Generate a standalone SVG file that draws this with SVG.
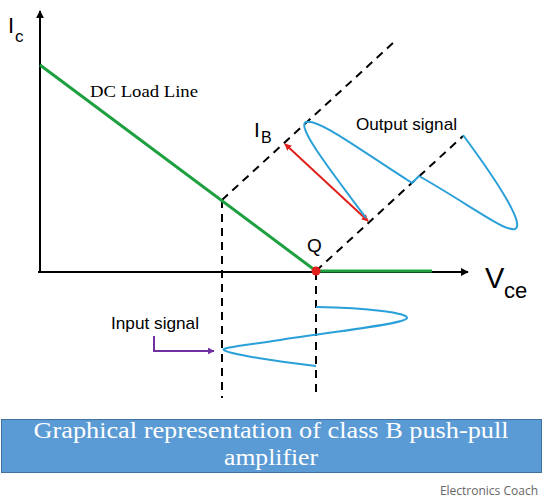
<svg xmlns="http://www.w3.org/2000/svg" width="550" height="500" viewBox="0 0 550 500">
<defs>
<style>
.axis{stroke:#000;stroke-width:2;fill:none}
.dash{stroke:#000;stroke-width:2;stroke-dasharray:8,6;fill:none}
.green{stroke:#1fa040;stroke-width:3;fill:none}
.sig{stroke:#2aa0d8;stroke-width:2;fill:none;stroke-linejoin:round}
.sans{font-family:"Liberation Sans","Open Sans",sans-serif;fill:#000}
.serif{font-family:"Liberation Serif","DejaVu Serif",serif}
</style>
<marker id="ah" viewBox="0 0 10 10" refX="9" refY="5" markerWidth="8" markerHeight="8" markerUnits="userSpaceOnUse" orient="auto"><path d="M0,0 L10,5 L0,10 z" fill="#000"/></marker>
<marker id="rh" viewBox="0 0 10 10" refX="9" refY="5" markerWidth="7" markerHeight="7" markerUnits="userSpaceOnUse" orient="auto-start-reverse"><path d="M0,0 L10,5 L0,10 z" fill="#e0201c"/></marker>
<marker id="ph" viewBox="0 0 10 10" refX="9" refY="5" markerWidth="7" markerHeight="7" markerUnits="userSpaceOnUse" orient="auto"><path d="M0,0 L10,5 L0,10 z" fill="#7030a0"/></marker>
</defs>
<rect width="550" height="500" fill="#fff"/>
<g id="connectors">
<line class="axis" x1="40" y1="273" x2="40" y2="11" marker-end="url(#ah)"/>
<line class="axis" x1="38" y1="272" x2="468" y2="272" marker-end="url(#ah)"/>
<line class="dash" x1="222" y1="200" x2="393" y2="43"/>
<line class="dash" x1="316" y1="271" x2="463" y2="136"/>
<line class="dash" x1="222" y1="200" x2="222" y2="398"/>
<line class="dash" x1="316" y1="272" x2="316" y2="398"/>
<polyline class="green" points="40,65 316,271 432,271"/>
<line x1="285" y1="144" x2="368" y2="221" stroke="#e0201c" stroke-width="2" marker-start="url(#rh)" marker-end="url(#rh)"/>
<path class="sig" d="M366,218 C330,170 296,126 306,122 C318,118 360,150 412,183 L419,176 C470,205 505,232 515,229 C525,225 500,185 463,135"/>
<path class="sig" d="M316,307 C370,308 408,313 407,318 C406,324 330,332 280,340 C240,346 220,348 224,350 C228,354 280,362 316,366"/>
<polyline points="154,336 154,351 214,351" fill="none" stroke="#7030a0" stroke-width="2" marker-end="url(#ph)"/>
<circle cx="316" cy="271" r="4.5" fill="#e0201c"/>
</g>
<g id="label-ic"><text class="sans" x="8" y="33" font-size="22">I</text><text class="sans" x="15" y="42" font-size="17">c</text></g>
<g id="label-ib"><text class="sans" x="254" y="137" font-size="21">I</text><text class="sans" x="261" y="143" font-size="16">B</text></g>
<g id="label-vce"><text class="sans" x="485" y="288" font-size="29">V</text><text class="sans" x="504" y="298" font-size="22">ce</text></g>
<g id="label-q"><text class="sans" x="307" y="252" font-size="19">Q</text></g>
<g id="label-dc"><text class="serif" x="90" y="97" font-size="16" textLength="108" lengthAdjust="spacingAndGlyphs">DC Load Line</text></g>
<g id="label-output"><text class="sans" x="356" y="130" font-size="17" textLength="101" lengthAdjust="spacingAndGlyphs">Output signal</text></g>
<g id="label-input"><text class="sans" x="111" y="329" font-size="17" textLength="88" lengthAdjust="spacingAndGlyphs">Input signal</text></g>
<g id="title">
<rect x="1.5" y="419.5" width="540" height="53" fill="#5b9bd5" stroke="#41719c" stroke-width="1"/>
<text class="serif" x="271" y="438" font-size="24" fill="#fff" text-anchor="middle" textLength="475" lengthAdjust="spacingAndGlyphs">Graphical representation of class B push-pull</text>
<text class="serif" x="271" y="465" font-size="24" fill="#fff" text-anchor="middle" textLength="94" lengthAdjust="spacingAndGlyphs">amplifier</text>
</g>
<g id="credit"><text x="538" y="495" font-family="'Open Sans','Liberation Sans',sans-serif" font-size="12" fill="#666" text-anchor="end">Electronics Coach</text></g>
</svg>
